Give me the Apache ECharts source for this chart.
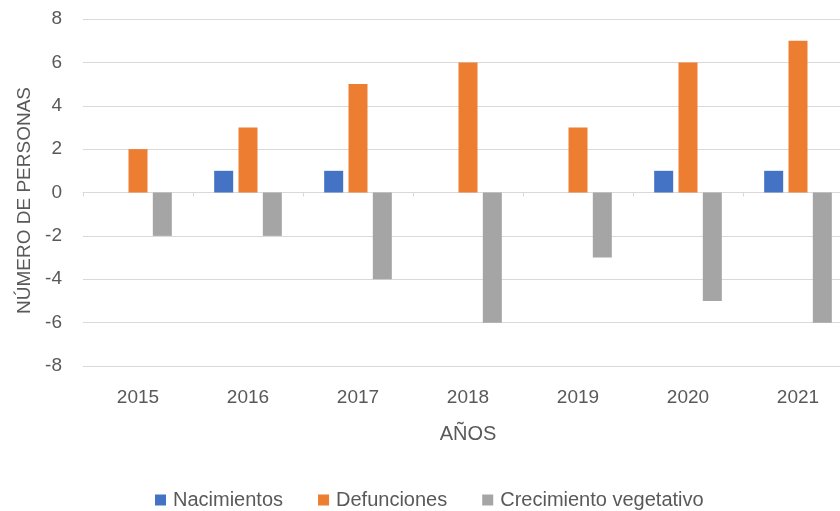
<!DOCTYPE html>
<html>
	<head>
		<meta charset="UTF-8">
		<title></title>
		<script type="text/javascript" src="https://cdn.jsdelivr.net/npm/echarts@6/dist/echarts.min.js"></script>
		<style>
			html, body { margin: 0; padding: 0; background: #fff; }
			#chart { width: 840px; height: 511px; }
		</style>
	</head>
	<body>
		<div id="chart"></div>
		<script>
			// 数据
			var years = ['2015', '2016', '2017', '2018', '2019', '2020', '2021'];
			var nacimientos = [0, 1, 1, 0, 0, 1, 1];
			var defunciones = [2, 3, 5, 6, 3, 6, 7];
			var crecimiento = [-2, -2, -4, -6, -3, -5, -6];

			var font = '"Liberation Sans", Arial, sans-serif';
			var textColor = '#595959';

			var chart = echarts.init(document.getElementById('chart'));

			var option = {
				animation: false,
				textStyle: { fontFamily: font },
				grid: {
					left: 83,
					width: 770,
					top: 19,
					bottom: 145,
					outerBoundsMode: 'none'
				},
				legend: {
					left: 150,
					top: 485,
					itemWidth: 11,
					itemHeight: 11,
					itemGap: 35,
					icon: 'rect',
					textStyle: { color: textColor, fontSize: 20, fontFamily: font, padding: [0, 0, 0, 2] },
					data: ['Nacimientos', 'Defunciones', 'Crecimiento vegetativo']
				},
				xAxis: [{
					// 零线 + 刻度
					type: 'category',
					data: years,
					position: 'bottom',
					axisLine: { onZero: true, lineStyle: { color: '#d9d9d9', width: 1 } },
					axisTick: { show: true, length: 4, lineStyle: { color: '#d9d9d9' } },
					axisLabel: { show: false }
				}, {
					// 底部标签
					type: 'category',
					data: years,
					position: 'bottom',
					axisLine: { show: false, onZero: false },
					axisTick: { show: false },
					axisLabel: { color: textColor, fontSize: 19, margin: 22, fontFamily: font },
					name: 'AÑOS',
					nameLocation: 'middle',
					nameGap: 58,
					nameTextStyle: { color: textColor, fontSize: 20, fontFamily: font }
				}],
				yAxis: {
					type: 'value',
					min: -8,
					max: 8,
					interval: 2,
					axisLine: { show: false },
					axisTick: { show: false },
					axisLabel: { color: textColor, fontSize: 19, margin: 21, fontFamily: font },
					splitLine: { lineStyle: { color: '#d9d9d9', width: 1 } },
					name: 'NÚMERO DE PERSONAS',
					nameLocation: 'middle',
					nameGap: 47,
					nameTextStyle: { color: textColor, fontSize: 19, fontFamily: font, padding: [0, 16, 0, 0] }
				},
				series: [{
					name: 'Nacimientos',
					type: 'bar',
					xAxisIndex: 0,
					barWidth: 19,
					barGap: '28%',
					itemStyle: { color: '#4472C4' },
					data: nacimientos
				}, {
					name: 'Defunciones',
					type: 'bar',
					xAxisIndex: 0,
					barWidth: 19,
					barGap: '28%',
					itemStyle: { color: '#ED7D31' },
					data: defunciones
				}, {
					name: 'Crecimiento vegetativo',
					type: 'bar',
					xAxisIndex: 0,
					barWidth: 19,
					barGap: '28%',
					itemStyle: { color: '#A5A5A5' },
					data: crecimiento
				}]
			};

			chart.setOption(option);
		</script>
	</body>
</html>
